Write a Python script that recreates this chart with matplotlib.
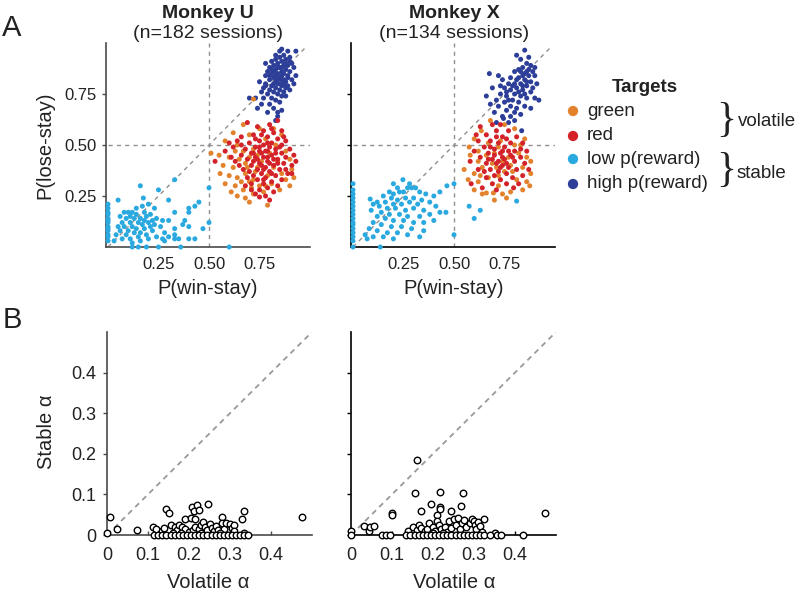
import numpy as np
import matplotlib
matplotlib.use('Agg')
import matplotlib.pyplot as plt

plt.rcParams['font.family'] = ['Liberation Sans', 'DejaVu Sans']

# colours of the four target types
c_green = '#E3822C'
c_red = '#D3222A'
c_low = '#29A9E0'
c_high = '#2C3E98'

# ---- panel A data: (P(win-stay), P(lose-stay)) per session ----
u_high = [
    (0.89, 0.96), (0.93, 0.96), (0.87, 0.94), (0.85, 0.93), (0.88, 0.92), (0.90, 0.93), (0.86, 0.91), (0.83, 0.92),
    (0.91, 0.90), (0.84, 0.90), (0.87, 0.89), (0.89, 0.89), (0.82, 0.89), (0.85, 0.88), (0.88, 0.87), (0.80, 0.88),
    (0.83, 0.87), (0.86, 0.86), (0.90, 0.86), (0.92, 0.88), (0.79, 0.86), (0.81, 0.85), (0.84, 0.85), (0.87, 0.85),
    (0.89, 0.84), (0.85, 0.83), (0.82, 0.83), (0.78, 0.84), (0.80, 0.82), (0.83, 0.81), (0.86, 0.82), (0.88, 0.81),
    (0.91, 0.82), (0.84, 0.80), (0.81, 0.79), (0.78, 0.80), (0.86, 0.79), (0.89, 0.79), (0.83, 0.78), (0.80, 0.77),
    (0.85, 0.77), (0.87, 0.76), (0.82, 0.76), (0.77, 0.78), (0.79, 0.75), (0.84, 0.75), (0.86, 0.74), (0.81, 0.73),
    (0.88, 0.74), (0.83, 0.72), (0.85, 0.71), (0.76, 0.76), (0.93, 0.84), (0.92, 0.80), (0.90, 0.77), (0.78, 0.90),
    (0.81, 0.91), (0.85, 0.96), (0.86, 0.97), (0.88, 0.90), (0.84, 0.88), (0.82, 0.86), (0.86, 0.84), (0.83, 0.84),
    (0.87, 0.82), (0.85, 0.80), (0.82, 0.80), (0.88, 0.78), (0.84, 0.82), (0.80, 0.84), (0.75, 0.81), (0.77, 0.73),
    (0.73, 0.73), (0.70, 0.73), (0.74, 0.68), (0.76, 0.70), (0.80, 0.70), (0.82, 0.68), (0.84, 0.66), (0.86, 0.67),
    (0.84, 0.64), (0.83, 0.62), (0.79, 0.66), (0.78, 0.79), (0.90, 0.91), (0.87, 0.80), (0.89, 0.83), (0.81, 0.87),
    (0.86, 0.88), (0.83, 0.94),
]
u_red = [
    (0.69, 0.61), (0.74, 0.59), (0.80, 0.60), (0.84, 0.62), (0.77, 0.57), (0.82, 0.56), (0.86, 0.57), (0.72, 0.55),
    (0.66, 0.54), (0.79, 0.54), (0.84, 0.53), (0.88, 0.52), (0.75, 0.52), (0.70, 0.51), (0.64, 0.52), (0.60, 0.51),
    (0.81, 0.51), (0.86, 0.50), (0.77, 0.50), (0.73, 0.49), (0.68, 0.48), (0.83, 0.48), (0.90, 0.48), (0.79, 0.47),
    (0.75, 0.47), (0.71, 0.46), (0.86, 0.46), (0.66, 0.45), (0.81, 0.45), (0.77, 0.44), (0.73, 0.44), (0.88, 0.44),
    (0.92, 0.45), (0.69, 0.43), (0.84, 0.43), (0.79, 0.42), (0.75, 0.41), (0.63, 0.42), (0.71, 0.40), (0.82, 0.40),
    (0.87, 0.41), (0.91, 0.40), (0.78, 0.39), (0.74, 0.38), (0.67, 0.38), (0.85, 0.38), (0.80, 0.37), (0.76, 0.36),
    (0.72, 0.35), (0.89, 0.36), (0.83, 0.35), (0.69, 0.34), (0.78, 0.34), (0.74, 0.33), (0.81, 0.32), (0.86, 0.33),
    (0.77, 0.31), (0.71, 0.31), (0.84, 0.30), (0.79, 0.29), (0.75, 0.28), (0.82, 0.27), (0.73, 0.26), (0.78, 0.25),
    (0.75, 0.245), (0.80, 0.23), (0.53, 0.42), (0.58, 0.47), (0.62, 0.49), (0.65, 0.40), (0.93, 0.42), (0.91, 0.36),
    (0.76, 0.46), (0.80, 0.49), (0.74, 0.43), (0.78, 0.47), (0.82, 0.43), (0.72, 0.42), (0.76, 0.40), (0.80, 0.41),
    (0.70, 0.37), (0.77, 0.38), (0.83, 0.46), (0.85, 0.49), (0.79, 0.51), (0.73, 0.53), (0.81, 0.58), (0.76, 0.55),
    (0.87, 0.54), (0.68, 0.30), (0.71, 0.28), (0.66, 0.50), (0.61, 0.44), (0.88, 0.38), (0.75, 0.49), (0.79, 0.44),
    (0.81, 0.36), (0.77, 0.33), (0.84, 0.41), (0.72, 0.46),
]
u_green = [
    (0.72, 0.725), (0.67, 0.60), (0.75, 0.58), (0.82, 0.58), (0.70, 0.55), (0.62, 0.56), (0.78, 0.53), (0.86, 0.55),
    (0.51, 0.46), (0.55, 0.45), (0.58, 0.52), (0.64, 0.50), (0.67, 0.47), (0.72, 0.48), (0.80, 0.46), (0.88, 0.47),
    (0.60, 0.44), (0.65, 0.43), (0.70, 0.44), (0.57, 0.40), (0.62, 0.39), (0.68, 0.41), (0.74, 0.39), (0.84, 0.42),
    (0.90, 0.43), (0.555, 0.36), (0.60, 0.35), (0.64, 0.34), (0.68, 0.36), (0.72, 0.33), (0.79, 0.35), (0.86, 0.36),
    (0.91, 0.38), (0.58, 0.31), (0.63, 0.30), (0.67, 0.28), (0.70, 0.32), (0.75, 0.30), (0.81, 0.31), (0.88, 0.33),
    (0.92, 0.34), (0.64, 0.25), (0.68, 0.24), (0.70, 0.22), (0.72, 0.26), (0.77, 0.27), (0.79, 0.205), (0.85, 0.28),
    (0.61, 0.27), (0.66, 0.32), (0.73, 0.37), (0.76, 0.42), (0.82, 0.39), (0.69, 0.39), (0.63, 0.47), (0.83, 0.50),
    (0.74, 0.45), (0.78, 0.30), (0.90, 0.30), (0.71, 0.29),
]
u_low = [
    (0.0, 0.03), (0.0, 0.05), (0.0, 0.06), (0.0, 0.08), (0.0, 0.09), (0.0, 0.10), (0.0, 0.12), (0.0, 0.13),
    (0.0, 0.14), (0.0, 0.16), (0.0, 0.17), (0.0, 0.19), (0.0, 0.21),
    (0.16, 0.30), (0.33, 0.33), (0.25, 0.28), (0.05, 0.23), (0.175, 0.24), (0.30, 0.23), (0.45, 0.22), (0.50, 0.29),
    (0.20, 0.21), (0.23, 0.19), (0.40, 0.19), (0.40, 0.17), (0.33, 0.17), (0.43, 0.20),
    (0.08, 0.17), (0.10, 0.17), (0.12, 0.17), (0.14, 0.16), (0.18, 0.17), (0.21, 0.16), (0.06, 0.15), (0.09, 0.14),
    (0.13, 0.14), (0.16, 0.14), (0.19, 0.15), (0.24, 0.14), (0.27, 0.13), (0.30, 0.13), (0.07, 0.12), (0.11, 0.12),
    (0.15, 0.12), (0.17, 0.11), (0.20, 0.12), (0.23, 0.11), (0.05, 0.10), (0.08, 0.10), (0.12, 0.10), (0.14, 0.09),
    (0.18, 0.09), (0.21, 0.10), (0.26, 0.10), (0.06, 0.08), (0.10, 0.08), (0.13, 0.07), (0.16, 0.07), (0.19, 0.06),
    (0.22, 0.08), (0.28, 0.07), (0.09, 0.06), (0.15, 0.05), (0.11, 0.04), (0.03, 0.03), (0.07, 0.04), (0.12, 0.02),
    (0.16, 0.03), (0.20, 0.04), (0.24, 0.05), (0.27, 0.04), (0.14, 0.19), (0.17, 0.20), (0.11, 0.15), (0.22, 0.13),
    (0.18, 0.13), (0.04, 0.06),
    (0.38, 0.13), (0.37, 0.11), (0.40, 0.10), (0.33, 0.09), (0.33, 0.06), (0.33, 0.04), (0.35, 0.04), (0.40, 0.04),
    (0.43, 0.04), (0.47, 0.09), (0.50, 0.12), (0.28, 0.03), (0.30, 0.05),
    (0.12, 0.0), (0.15, 0.0), (0.19, 0.0), (0.25, 0.0), (0.36, 0.0), (0.60, 0.0),
]

x_high = [
    (0.85, 0.965), (0.81, 0.94), (0.675, 0.85), (0.92, 0.72), (0.83, 0.92), (0.86, 0.90), (0.88, 0.89), (0.84, 0.88),
    (0.89, 0.86), (0.86, 0.86), (0.82, 0.87), (0.80, 0.86), (0.90, 0.84), (0.87, 0.84), (0.84, 0.84), (0.85, 0.82),
    (0.82, 0.83), (0.78, 0.83), (0.88, 0.81), (0.83, 0.80), (0.80, 0.80), (0.86, 0.79), (0.77, 0.80), (0.74, 0.82),
    (0.72, 0.84), (0.81, 0.78), (0.84, 0.77), (0.88, 0.76), (0.78, 0.77), (0.75, 0.78), (0.80, 0.75), (0.83, 0.74),
    (0.76, 0.74), (0.73, 0.75), (0.79, 0.72), (0.86, 0.73), (0.90, 0.73), (0.71, 0.72), (0.75, 0.71), (0.82, 0.71),
    (0.78, 0.69), (0.72, 0.69), (0.85, 0.69), (0.88, 0.68), (0.76, 0.67), (0.80, 0.66), (0.70, 0.66), (0.74, 0.64),
    (0.78, 0.64), (0.83, 0.65), (0.745, 0.63), (0.77, 0.61), (0.80, 0.62), (0.835, 0.57), (0.71, 0.61), (0.66, 0.74),
    (0.69, 0.78), (0.87, 0.93), (0.90, 0.88), (0.91, 0.80), (0.85, 0.85), (0.83, 0.86), (0.87, 0.87), (0.81, 0.82),
    (0.86, 0.81), (0.79, 0.79), (0.84, 0.79), (0.82, 0.76), (0.76, 0.76), (0.73, 0.79), (0.89, 0.78), (0.85, 0.75),
    (0.68, 0.70), (0.81, 0.68), (0.77, 0.72),
]
x_red = [
    (0.69, 0.60), (0.73, 0.60), (0.63, 0.59), (0.71, 0.57), (0.77, 0.57), (0.66, 0.55), (0.74, 0.54), (0.81, 0.54),
    (0.68, 0.52), (0.62, 0.52), (0.72, 0.51), (0.78, 0.51), (0.84, 0.51), (0.65, 0.49), (0.70, 0.48), (0.75, 0.49),
    (0.80, 0.47), (0.86, 0.47), (0.60, 0.47), (0.67, 0.46), (0.73, 0.46), (0.78, 0.45), (0.83, 0.44), (0.63, 0.44),
    (0.69, 0.43), (0.75, 0.43), (0.80, 0.42), (0.71, 0.41), (0.66, 0.41), (0.85, 0.41), (0.58, 0.42), (0.74, 0.40),
    (0.77, 0.39), (0.68, 0.38), (0.72, 0.37), (0.62, 0.38), (0.81, 0.38), (0.76, 0.36), (0.70, 0.35), (0.66, 0.34),
    (0.79, 0.34), (0.84, 0.35), (0.73, 0.33), (0.69, 0.31), (0.76, 0.31), (0.795, 0.29), (0.585, 0.31), (0.71, 0.28),
    (0.64, 0.29), (0.82, 0.31), (0.74, 0.44), (0.70, 0.45), (0.77, 0.47), (0.72, 0.42), (0.68, 0.49), (0.76, 0.41),
    (0.73, 0.39), (0.79, 0.44), (0.65, 0.37), (0.87, 0.38), (0.61, 0.55), (0.76, 0.53), (0.71, 0.54), (0.83, 0.48),
    (0.67, 0.43), (0.74, 0.47),
]
x_green = [
    (0.635, 0.57), (0.68, 0.62), (0.75, 0.60), (0.80, 0.58), (0.575, 0.49), (0.60, 0.53), (0.67, 0.51), (0.73, 0.52),
    (0.83, 0.50), (0.55, 0.38), (0.58, 0.45), (0.62, 0.42), (0.70, 0.46), (0.77, 0.44), (0.82, 0.46), (0.86, 0.44),
    (0.88, 0.42), (0.60, 0.36), (0.64, 0.39), (0.71, 0.39), (0.78, 0.40), (0.84, 0.39), (0.88, 0.36), (0.57, 0.33),
    (0.62, 0.32), (0.67, 0.34), (0.72, 0.35), (0.75, 0.37), (0.81, 0.33), (0.86, 0.32), (0.60, 0.28), (0.64, 0.26),
    (0.66, 0.265), (0.695, 0.265), (0.72, 0.30), (0.74, 0.26), (0.78, 0.27), (0.84, 0.28), (0.875, 0.30), (0.70, 0.23),
    (0.76, 0.24), (0.62, 0.47), (0.69, 0.41), (0.74, 0.42), (0.79, 0.37), (0.66, 0.45), (0.72, 0.49), (0.80, 0.50),
    (0.85, 0.53), (0.63, 0.35),
]
x_low = [
    (0.0, 0.0), (0.0, 0.03), (0.0, 0.05), (0.0, 0.07), (0.0, 0.09), (0.0, 0.11), (0.0, 0.12), (0.0, 0.14),
    (0.0, 0.16), (0.0, 0.18), (0.0, 0.20), (0.0, 0.22), (0.0, 0.24), (0.0, 0.26), (0.0, 0.28), (0.0, 0.31),
    (0.247, 0.33), (0.465, 0.30), (0.50, 0.31), (0.27, 0.29), (0.29, 0.29), (0.31, 0.29), (0.22, 0.29), (0.23, 0.27),
    (0.085, 0.235), (0.43, 0.17), (0.46, 0.17), (0.50, 0.06), (0.135, 0.0), (0.575, 0.20), (0.63, 0.18), (0.60, 0.14),
    (0.81, 0.225),
    (0.18, 0.27), (0.20, 0.26), (0.25, 0.27), (0.33, 0.27), (0.36, 0.26), (0.40, 0.25), (0.15, 0.25), (0.19, 0.24),
    (0.22, 0.23), (0.26, 0.24), (0.30, 0.24), (0.34, 0.23), (0.12, 0.22), (0.16, 0.22), (0.20, 0.21), (0.24, 0.21),
    (0.28, 0.22), (0.32, 0.21), (0.38, 0.22), (0.10, 0.21), (0.13, 0.20), (0.17, 0.19), (0.21, 0.19), (0.26, 0.18),
    (0.30, 0.19), (0.35, 0.18), (0.09, 0.18), (0.14, 0.17), (0.18, 0.16), (0.23, 0.16), (0.27, 0.15), (0.33, 0.15),
    (0.38, 0.16), (0.12, 0.15), (0.16, 0.14), (0.20, 0.13), (0.25, 0.13), (0.30, 0.12), (0.35, 0.12), (0.40, 0.13),
    (0.10, 0.12), (0.14, 0.11), (0.19, 0.10), (0.24, 0.10), (0.29, 0.09), (0.35, 0.08), (0.08, 0.09), (0.12, 0.08),
    (0.17, 0.07), (0.22, 0.07), (0.27, 0.06), (0.33, 0.05), (0.06, 0.06), (0.10, 0.05), (0.15, 0.05), (0.20, 0.04),
    (0.07, 0.04), (0.43, 0.27), (0.41, 0.20), (0.28, 0.31), (0.20, 0.31),
]

# ---- panel B data: (volatile alpha, stable alpha) per session ----
u_alpha = [
    (0.0, 0.005), (0.007, 0.045), (0.024, 0.016), (0.072, 0.012), (0.144, 0.063), (0.151, 0.053), (0.112, 0.02),
    (0.207, 0.068), (0.212, 0.058), (0.22, 0.075), (0.225, 0.062), (0.247, 0.077), (0.19, 0.04), (0.205, 0.043),
    (0.215, 0.04), (0.28, 0.045), (0.333, 0.06), (0.33, 0.04), (0.476, 0.045),
    (0.12, 0.015), (0.135, 0.01), (0.14, 0.018), (0.155, 0.025), (0.165, 0.02), (0.17, 0.012), (0.175, 0.025),
    (0.182, 0.02), (0.19, 0.015), (0.2, 0.008), (0.21, 0.012), (0.215, 0.02), (0.225, 0.015), (0.23, 0.025),
    (0.235, 0.032), (0.24, 0.02), (0.245, 0.012), (0.25, 0.028), (0.255, 0.018), (0.26, 0.01), (0.265, 0.022),
    (0.27, 0.012), (0.28, 0.03), (0.285, 0.015), (0.29, 0.03), (0.3, 0.028), (0.305, 0.018), (0.31, 0.025),
    (0.31, 0.01), (0.335, 0.005), (0.18, 0.005), (0.16, 0.005), (0.23, 0.005), (0.275, 0.006),
    (0.115, 0.0), (0.125, 0.0), (0.135, 0.0), (0.145, 0.0), (0.155, 0.0), (0.165, 0.0), (0.175, 0.0), (0.185, 0.0),
    (0.195, 0.0), (0.205, 0.0), (0.215, 0.0), (0.225, 0.0), (0.235, 0.0), (0.245, 0.0), (0.255, 0.0), (0.265, 0.0),
    (0.275, 0.0), (0.285, 0.0), (0.295, 0.0), (0.305, 0.0), (0.315, 0.0), (0.325, 0.0), (0.335, 0.0), (0.345, 0.0),
]
x_alpha = [
    (0.161, 0.185), (0.157, 0.104), (0.218, 0.107), (0.274, 0.104), (0.10, 0.053), (0.10, 0.05), (0.17, 0.058),
    (0.194, 0.076), (0.216, 0.07), (0.218, 0.064), (0.21, 0.05), (0.245, 0.06), (0.268, 0.072), (0.473, 0.054),
    (0.031, 0.022), (0.043, 0.01), (0.047, 0.02), (0.057, 0.022), (0.0, 0.01), (0.0, 0.0),
    (0.14, 0.01), (0.15, 0.02), (0.16, 0.012), (0.165, 0.025), (0.17, 0.018), (0.18, 0.01), (0.185, 0.015),
    (0.19, 0.03), (0.2, 0.02), (0.205, 0.01), (0.21, 0.035), (0.215, 0.025), (0.22, 0.015), (0.23, 0.02),
    (0.235, 0.008), (0.24, 0.035), (0.245, 0.018), (0.25, 0.04), (0.255, 0.025), (0.26, 0.042), (0.265, 0.015),
    (0.27, 0.03), (0.275, 0.038), (0.28, 0.02), (0.29, 0.03), (0.295, 0.04), (0.3, 0.035), (0.302, 0.025),
    (0.305, 0.015), (0.31, 0.032), (0.315, 0.022), (0.32, 0.008), (0.325, 0.04), (0.35, 0.006), (0.2, 0.005),
    (0.225, 0.004),
    (0.075, 0.0), (0.085, 0.0), (0.095, 0.0), (0.135, 0.0), (0.145, 0.0), (0.155, 0.0), (0.165, 0.0), (0.175, 0.0),
    (0.185, 0.0), (0.195, 0.0), (0.205, 0.0), (0.215, 0.0), (0.225, 0.0), (0.235, 0.0), (0.245, 0.0), (0.255, 0.0),
    (0.265, 0.0), (0.275, 0.0), (0.285, 0.0), (0.295, 0.0), (0.305, 0.0), (0.315, 0.0), (0.325, 0.0), (0.34, 0.0),
    (0.355, 0.0), (0.365, 0.0), (0.42, 0.0),
]

titles = ['Monkey U', 'Monkey X']
subtitles = ['(n=182 sessions)', '(n=134 sessions)']
a_ticks = [0.25, 0.50, 0.75]
a_ticklabels = ['0.25', '0.50', '0.75']
b_ticks = [0, 0.1, 0.2, 0.3, 0.4]
b_ticklabels = ['0', '0.1', '0.2', '0.3', '0.4']

W, H = 800, 592


def fx(px):
    return px / W


def fy(py):
    return 1 - py / H


fig = plt.figure(figsize=(8, 5.92), dpi=100)

axA = [fig.add_axes([fx(106), fy(247), fx(204), 204 / H]),
       fig.add_axes([fx(351), fy(247), fx(204), 204 / H])]
axB = [fig.add_axes([fx(107), fy(535), fx(205), 203 / H]),
       fig.add_axes([fx(351), fy(535), fx(205), 203 / H])]

spine_col = ['#4a4a4a', 'black']
dash_col = '#8f8f8f'

groups = [(u_low, u_high, u_green, u_red), (x_low, x_high, x_green, x_red)]
for i, ax in enumerate(axA):
    ax.set_xlim(-0.01, 1.0)
    ax.set_ylim(0, 1.0)
    ax.plot([0.5, 0.5], [0, 1.0], color=dash_col, lw=1.0, dashes=(3, 3), zorder=1)
    ax.plot([0, 1.0], [0.5, 0.5], color=dash_col, lw=1.0, dashes=(3, 3), zorder=1)
    ax.plot([0, 0.98], [0, 0.98], color=dash_col, lw=1.0, dashes=(3, 3), zorder=1)
    for pts, col in zip(groups[i], [c_low, c_high, c_green, c_red]):
        p = np.array(pts)
        ax.scatter(p[:, 0], p[:, 1], s=13, color=col, edgecolors='none', zorder=3, clip_on=False)
    for s in ['top', 'right']:
        ax.spines[s].set_visible(False)
    for s in ['left', 'bottom']:
        ax.spines[s].set_color(spine_col[i])
        ax.spines[s].set_linewidth(1.2)
    ax.set_xticks(a_ticks)
    ax.set_xticklabels(a_ticklabels, fontsize=12)
    ax.set_yticks(a_ticks)
    if i == 0:
        ax.set_yticklabels(a_ticklabels, fontsize=12)
    else:
        ax.set_yticklabels([])
    ax.tick_params(length=3, width=1, pad=4, colors=spine_col[i], labelcolor='#222222')
    ax.tick_params(axis='x', length=0, pad=7)
    fig.text(fx(208 + 246 * i), fy(288), 'P(win-stay)', fontsize=14.5, ha='center', va='center', color='#222222')
    fig.text(fx(208 + 246 * i), fy(13), titles[i], fontsize=14, fontweight='bold', ha='center', va='center', color='#222222')
    fig.text(fx(208 + 246 * i), fy(34), subtitles[i], fontsize=14, ha='center', va='center', color='#222222')

alphas = [u_alpha, x_alpha]
for i, ax in enumerate(axB):
    ax.set_xlim(0, 0.5)
    ax.set_ylim(0, 0.5)
    ax.plot([0, 0.5], [0, 0.5], color='#999999', lw=1.3, dashes=(3, 2.5), zorder=1)
    p = np.array(alphas[i])
    ax.scatter(p[:, 0], p[:, 1], s=22, facecolors='white', edgecolors='black', linewidths=1.0, zorder=3, clip_on=False)
    for s in ['top', 'right']:
        ax.spines[s].set_visible(False)
    for s in ['left', 'bottom']:
        ax.spines[s].set_color(spine_col[i])
        ax.spines[s].set_linewidth(1.2)
    ax.set_xticks(b_ticks)
    ax.set_xticklabels(b_ticklabels, fontsize=13)
    ax.set_yticks(b_ticks)
    if i == 0:
        ax.set_yticklabels(b_ticklabels, fontsize=13)
    else:
        ax.set_yticklabels([])
    ax.tick_params(length=3, width=1, pad=5, colors=spine_col[i], labelcolor='#222222')
    ax.tick_params(axis='x', direction='in', pad=9)
    fig.text(fx(208 + 246 * i), fy(582), 'Volatile α', fontsize=14.5, ha='center', va='center', color='#222222')

fig.text(fx(45), fy(145), 'P(lose-stay)', fontsize=14.5, rotation=90, ha='center', va='center', color='#222222')
fig.text(fx(47), fy(432), 'Stable α', fontsize=14.5, rotation=90, ha='center', va='center', color='#222222')

fig.text(fx(12), fy(28), 'A', fontsize=21, ha='center', va='center', color='#222222')
fig.text(fx(12), fy(320), 'B', fontsize=21, ha='center', va='center', color='#222222')

# legend
leg_labels = ['green', 'red', 'low p(reward)', 'high p(reward)']
leg_cols = [c_green, c_red, c_low, c_high]
leg_rows = [111, 136, 159, 184]
fig.text(fx(645), fy(88), 'Targets', fontsize=13.5, fontweight='bold', ha='center', va='center', color='#222222')
lax = fig.add_axes([0, 0, 1, 1], facecolor='none')
lax.set_xlim(0, W)
lax.set_ylim(H, 0)
lax.axis('off')
for lab, col, row in zip(leg_labels, leg_cols, leg_rows):
    lax.scatter([573], [row], s=55, color=col, edgecolors='none')
    lax.text(587, row, lab, fontsize=13.5, ha='left', va='center', color='#222222')
lax.text(726, 121, '}', fontsize=30, family='Liberation Serif', ha='center', va='center', color='#222222')
lax.text(726, 171, '}', fontsize=30, family='Liberation Serif', ha='center', va='center', color='#222222')
lax.text(738, 122, 'volatile', fontsize=13.5, ha='left', va='center', color='#222222')
lax.text(737, 173, 'stable', fontsize=13.5, ha='left', va='center', color='#222222')

fig.savefig('out.png', dpi=100)
